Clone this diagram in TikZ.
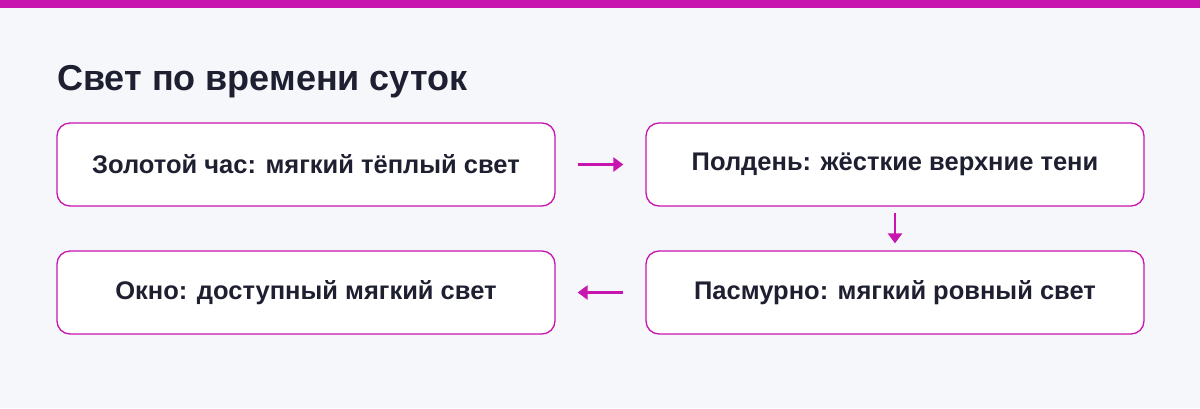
\documentclass[tikz,border=0pt]{standalone}
\usepackage{fontspec}
\setmainfont{Liberation Sans}
\usetikzlibrary{arrows.meta}
\definecolor{mag}{HTML}{C815B0}
\definecolor{bg}{HTML}{F6F7FB}
\definecolor{ink}{HTML}{1E1F30}
\begin{document}
\begin{tikzpicture}[x=1pt,y=-1pt,
  box/.style={draw=mag,line width=1.3pt,fill=white,rounded corners=13pt,minimum width=498pt,minimum height=83pt,font=\fontsize{25.5}{30}\selectfont\bfseries,text=ink},
  arr/.style={draw=mag,line width=2.5pt,-{Triangle[length=10pt,width=14pt]}}]
\fill[bg] (0,0) rectangle (1200,408);
\useasboundingbox (0,0) rectangle (1200,408);
\fill[mag] (0,0) rectangle (1200,8);
\node[anchor=base west,inner sep=0pt,font=\fontsize{36}{42}\selectfont\bfseries,text=ink] (t) at (57,90) {Свет по времени суток};
\node[box] (a) at (306,164.5) {Золотой час: мягкий тёплый свет};
\node[box] (b) at (895,164.5) {Полдень: жёсткие верхние тени};
\node[box] (c) at (895,292.5) {Пасмурно: мягкий ровный свет};
\node[box] (d) at (306,292.5) {Окно: доступный мягкий свет};
\draw[arr] ([xshift=22pt]a.east) -- ([xshift=-22pt]b.west);
\draw[arr] ([yshift=-6pt]b.south) -- ([yshift=7pt]c.north);
\draw[arr] ([xshift=-22pt]c.west) -- ([xshift=22pt]d.east);
\end{tikzpicture}
\end{document}
